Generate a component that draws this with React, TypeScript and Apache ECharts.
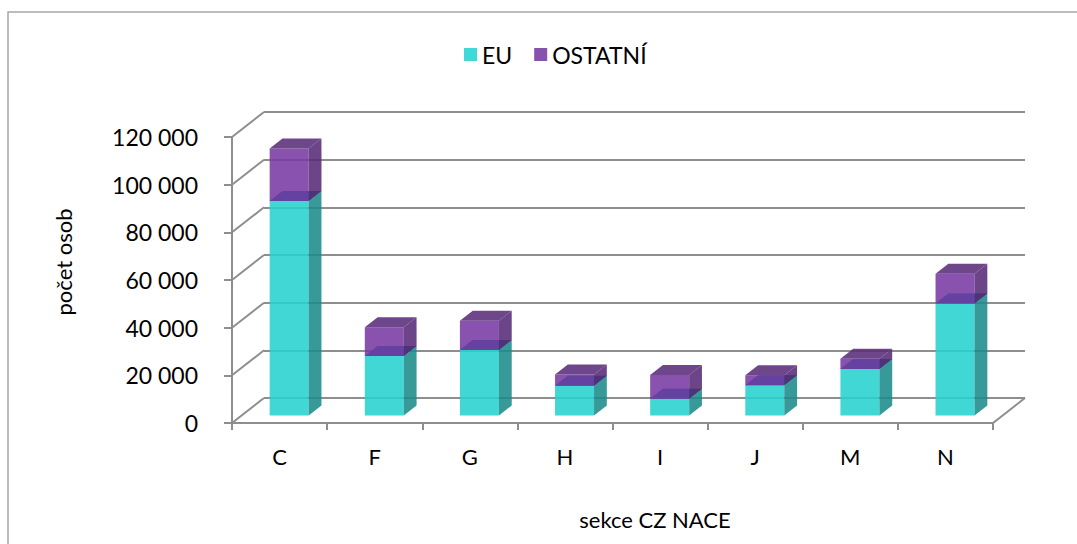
import React, { useEffect, useRef } from "react";
import * as echarts from "echarts";

const categories = ["C", "F", "G", "H", "I", "J", "M", "N"];
const euValues = [90000, 25000, 27500, 12500, 7000, 12700, 19500, 47000];
const ostatniValues = [22000, 12000, 12300, 4700, 10000, 4200, 4300, 12500];
const yTicks = [0, 20000, 40000, 60000, 80000, 100000, 120000];

const DX = 32;
const DY = -25;
const F0 = 0.3;
const F1 = 0.7;
const FONT = "Lato";
const LINE = "#8e8e8e";

function fmt(v: number) {
  return String(v).replace(/\B(?=(\d{3})+(?!\d))/g, " ");
}

function makeRender(colors: { front: string; side: string; top: string; band?: string; bandSide?: string }) {
  return (params: any, api: any) => {
    const i = api.value(0);
    const lo = api.value(1);
    const hi = api.value(2);
    const pLo = api.coord([i, lo]);
    const pHi = api.coord([i, hi]);
    const bw = api.size([1, 0])[0];
    const w = bw * 0.41;
    const cx = pLo[0];
    const xl0 = cx - w / 2 + F0 * DX;
    const xr0 = cx + w / 2 + F0 * DX;
    const yb0 = pLo[1] + F0 * DY;
    const yt0 = pHi[1] + F0 * DY;
    const ddx = (F1 - F0) * DX;
    const ddy = (F1 - F0) * DY;
    const xl1 = xl0 + ddx;
    const xr1 = xr0 + ddx;
    const yb1 = yb0 + ddy;
    const yt1 = yt0 + ddy;
    const op = 0.88;
    const children: any[] = [
      {
        type: "polygon",
        shape: { points: [[xl0, yt0], [xr0, yt0], [xr0, yb0], [xl0, yb0]] },
        style: { fill: colors.front, opacity: op },
      },
      {
        type: "polygon",
        shape: { points: [[xr0, yt0], [xr1, yt1], [xr1, yb1], [xr0, yb0]] },
        style: { fill: colors.side, opacity: op },
      },
      {
        type: "polygon",
        shape: { points: [[xl0, yt0], [xr0, yt0], [xr1, yt1], [xl1, yt1]] },
        style: { fill: colors.top, opacity: op },
      },
    ];
    if (colors.band) {
      children.push({
        type: "polygon",
        shape: { points: [[xl0, yb0], [xr0, yb0], [xr0, yb1], [xl1, yb1]] },
        style: { fill: colors.band, opacity: 0.95 },
      });
      children.push({
        type: "polygon",
        shape: { points: [[xr0, yb0], [xr1, yb1], [xr0, yb1]] },
        style: { fill: colors.bandSide, opacity: 0.95 },
      });
    }
    return { type: "group", children };
  };
}

export default function App() {
  const ref = useRef<HTMLDivElement>(null);
  useEffect(() => {
    if (!ref.current) return;
    const chart = echarts.init(ref.current, undefined, { renderer: "svg" });
    const euData = categories.map((_, i) => [i, 0, euValues[i]]);
    const ostData = categories.map((_, i) => [i, euValues[i], euValues[i] + ostatniValues[i]]);
    const frameData = yTicks.map((v) => [0, v]);
    chart.setOption({
      animation: false,
      backgroundColor: "#ffffff",
      textStyle: { fontFamily: FONT },
      grid: [
        { left: 232, top: 137, width: 761, height: 286 },
        { left: 232 + DX, top: 137 + DY, width: 761, height: 286 },
      ],
      legend: {
        data: ["EU", "OSTATNÍ"],
        left: 459,
        top: 38,
        icon: "rect",
        itemWidth: 13,
        itemHeight: 13,
        itemGap: 22,
        textStyle: { fontFamily: FONT, fontSize: 23, color: "#000" },
      },
      xAxis: [
        {
          type: "category",
          gridIndex: 0,
          data: categories,
          axisLine: { show: true, lineStyle: { color: LINE, width: 2 } },
          axisTick: { show: true, interval: 0, length: 7, lineStyle: { color: LINE, width: 2 } },
          axisLabel: { color: "#000", fontFamily: FONT, fontSize: 22, margin: 22 },
        },
        {
          type: "category",
          gridIndex: 1,
          data: categories,
          show: false,
        },
      ],
      yAxis: [
        {
          type: "value",
          gridIndex: 0,
          min: 0,
          max: 120000,
          interval: 20000,
          axisLine: { show: true, lineStyle: { color: LINE, width: 2 } },
          axisTick: { show: true, length: 8, lineStyle: { color: LINE, width: 2 } },
          splitLine: { show: false },
          axisLabel: { color: "#000", fontFamily: FONT, fontSize: 23, margin: 34, formatter: (v: number) => fmt(v) },
        },
        {
          type: "value",
          gridIndex: 1,
          min: 0,
          max: 120000,
          interval: 20000,
          axisLine: { show: false },
          axisTick: { show: false },
          axisLabel: { show: false },
          splitLine: { show: true, lineStyle: { color: LINE, width: 2 } },
        },
      ],
      series: [
        {
          type: "custom",
          name: "frame",
          xAxisIndex: 0,
          yAxisIndex: 0,
          z: 1,
          silent: true,
          data: frameData,
          encode: { x: 0, y: 1 },
          renderItem: (params: any, api: any) => {
            const v = api.value(1);
            const y = api.coord([0, v])[1];
            const cs = params.coordSys;
            const children: any[] = [
              {
                type: "line",
                shape: { x1: cs.x, y1: y, x2: cs.x + DX, y2: y + DY },
                style: { stroke: LINE, lineWidth: 2 },
              },
            ];
            if (v === 0) {
              children.push({
                type: "line",
                shape: { x1: cs.x + cs.width, y1: y, x2: cs.x + cs.width + DX, y2: y + DY },
                style: { stroke: LINE, lineWidth: 2 },
              });
            }
            return { type: "group", children };
          },
        },
        {
          type: "custom",
          name: "EU",
          xAxisIndex: 0,
          yAxisIndex: 0,
          z: 3,
          itemStyle: { color: "#41d9d7" },
          data: euData,
          encode: { x: 0, y: [1, 2] },
          renderItem: makeRender({ front: "#27d2cf", side: "#1c8b8b", top: "#2bb0ae" }),
        },
        {
          type: "custom",
          name: "OSTATNÍ",
          xAxisIndex: 0,
          yAxisIndex: 0,
          z: 4,
          itemStyle: { color: "#8752ae" },
          data: ostData,
          encode: { x: 0, y: [1, 2] },
          renderItem: makeRender({
            front: "#773aa3",
            side: "#572b78",
            top: "#5a2e7b",
            band: "#6441a0",
            bandSide: "#4d3378",
          }),
        },
      ],
      graphic: [
        {
          type: "rect",
          shape: { x: 8, y: 12, width: 1200, height: 700 },
          style: { fill: "none", stroke: "#a6a6a6", lineWidth: 1.5 },
          silent: true,
        },
        {
          type: "text",
          x: 63,
          y: 262,
          rotation: Math.PI / 2,
          style: {
            text: "počet osob",
            fontFamily: FONT,
            fontSize: 22,
            fill: "#000",
            textAlign: "center",
            textVerticalAlign: "middle",
          },
        },
        {
          type: "text",
          x: 655,
          y: 519,
          style: {
            text: "sekce CZ NACE",
            fontFamily: FONT,
            fontSize: 22,
            fill: "#000",
            textAlign: "center",
            textVerticalAlign: "middle",
          },
        },
      ],
    });
    return () => chart.dispose();
  }, []);
  return (
    <div
      ref={ref}
      style={{ position: "absolute", left: 0, top: 0, width: 1077, height: 544, background: "#fff" }}
    />
  );
}
